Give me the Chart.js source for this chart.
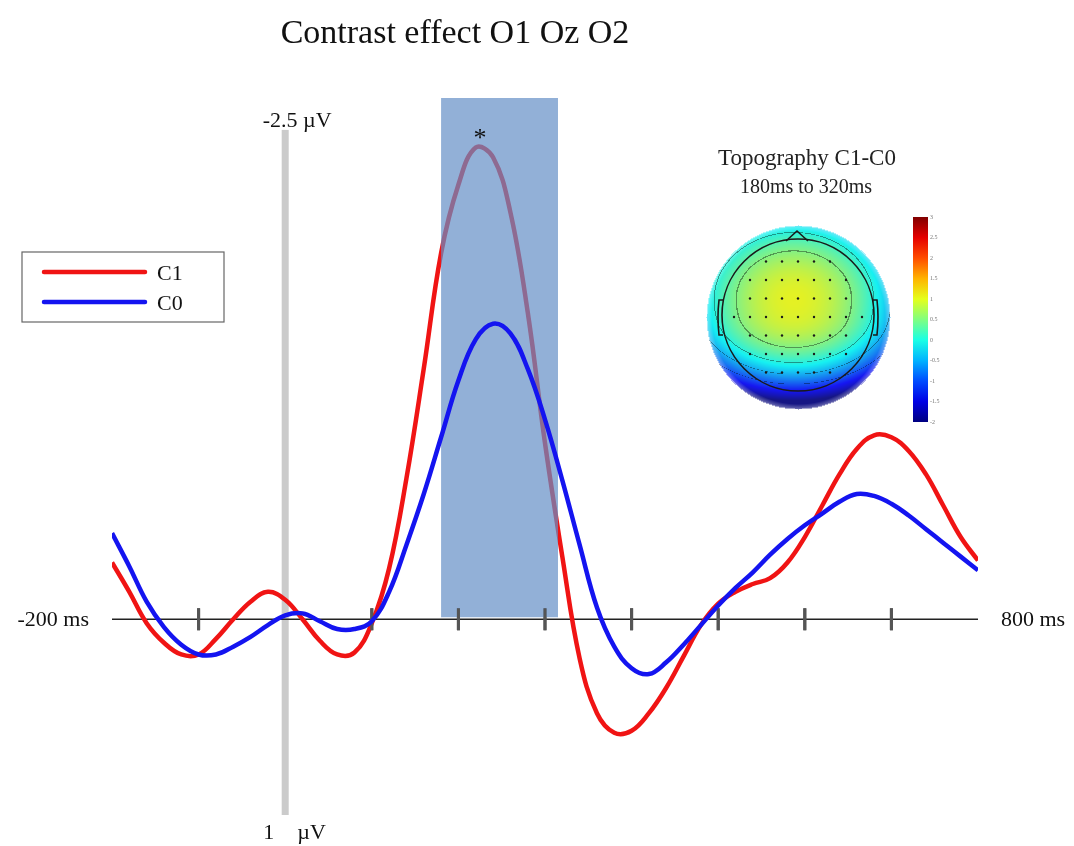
<!DOCTYPE html>
<html>
<head>
<meta charset="utf-8">
<title>Contrast effect O1 Oz O2</title>
<script src="https://cdn.jsdelivr.net/npm/chart.js@4.4.1/dist/chart.umd.min.js"></script>
<style>
  body { margin: 0; background: #fff; }
  #wrap { width: 1074px; height: 846px; }
</style>
</head>
<body>
<div id="wrap"><canvas id="erpChart" width="1074" height="846"></canvas></div>
<script>
// time points (ms)
var times = [-200, -180, -160, -140, -120, -100, -80, -60, -40, -20,
  0, 20, 40, 60, 80, 100, 120, 140, 160, 180,
  200, 220, 240, 260, 280, 300, 320, 340, 360, 380,
  400, 420, 440, 460, 480, 500, 520, 540, 560, 580,
  600, 620, 640, 660, 680, 700, 720, 740, 760, 780, 800];

// grand average amplitude (µV), negative up
var c1Values = [-0.29, -0.14, 0.02, 0.12, 0.18, 0.18, 0.10, 0.00, -0.09, -0.14,
  -0.10, 0.00, 0.11, 0.18, 0.17, 0.02, -0.26, -0.72, -1.28, -1.87,
  -2.22, -2.41, -2.36, -2.08, -1.57, -0.90, -0.32, 0.20, 0.48, 0.58,
  0.57, 0.48, 0.35, 0.19, 0.03, -0.08, -0.14, -0.18, -0.21, -0.29,
  -0.42, -0.58, -0.74, -0.87, -0.94, -0.93, -0.86, -0.74, -0.58, -0.42, -0.30];

var c0Values = [-0.44, -0.27, -0.09, 0.04, 0.13, 0.18, 0.18, 0.14, 0.09, 0.03,
  -0.02, -0.03, 0.01, 0.05, 0.05, 0.01, -0.14, -0.38, -0.64, -0.93,
  -1.22, -1.43, -1.51, -1.46, -1.28, -1.02, -0.71, -0.38, -0.06, 0.14,
  0.25, 0.28, 0.22, 0.13, 0.03, -0.07, -0.16, -0.24, -0.33, -0.41,
  -0.48, -0.54, -0.60, -0.64, -0.63, -0.59, -0.53, -0.46, -0.39, -0.32, -0.25];

var tickTimes = [-100, 100, 200, 300, 400, 500, 600, 700];
var windowStart = 180;
var windowEnd = 315;
var peakTime = 225;
var colorbarLabels = ['3', '2.5', '2', '1.5', '1', '0.5', '0', '-0.5', '-1', '-1.5', '-2'];
var isoLevels = [0.5, 0, -0.5, -1];

var serif = '"Liberation Serif", "DejaVu Serif", serif';

function toPoints(vals) {
  return vals.map(function (v, i) { return { x: times[i], y: v }; });
}

function drawTicks(ctx, x, y0) {
  ctx.save();
  ctx.strokeStyle = '#555';
  ctx.lineWidth = 3;
  tickTimes.forEach(function (t) {
    var px = x.getPixelForValue(t);
    ctx.beginPath();
    ctx.moveTo(px, y0 - 11);
    ctx.lineTo(px, y0 + 11);
    ctx.stroke();
  });
  ctx.restore();
}

// jet colormap, f in 0..1
function jet(f) {
  f = Math.max(0, Math.min(1, f));
  var r = Math.min(Math.max(Math.min(4 * f - 1.5, -4 * f + 4.5), 0), 1);
  var g = Math.min(Math.max(Math.min(4 * f - 0.5, -4 * f + 3.5), 0), 1);
  var b = Math.min(Math.max(Math.min(4 * f + 0.5, -4 * f + 2.5), 0), 1);
  return [Math.round(r * 255), Math.round(g * 255), Math.round(b * 255)];
}

function drawTopo(ctx) {
  var cx = 798, cy = 317, R = 92;
  var off = document.createElement('canvas');
  off.width = R * 2 + 4;
  off.height = R * 2 + 4;
  var octx = off.getContext('2d');
  var img = octx.createImageData(off.width, off.height);
  for (var py = 0; py < off.height; py++) {
    for (var px = 0; px < off.width; px++) {
      var nx = (px - R - 2) / R, ny = (py - R - 2) / R;
      var rr = Math.sqrt(nx * nx + ny * ny);
      if (rr > 1) continue;
      var up = Math.min(0, ny + 0.2), down = Math.max(0, ny + 0.2);
      var v = 1.05 - 1.4 * (nx + 0.05) * (nx + 0.05) - 2.0 * up * up - 1.3 * down * down - 1.8 * Math.max(0, ny) * Math.max(0, ny);
      var c = jet((v + 2) / 5);
      // muted like a printed map
      c = c.map(function (ch) { return ch * 0.86 + 22; });
      var iso = 1;
      isoLevels.forEach(function (lv) {
        if (Math.abs(v - lv) < 0.013) iso = 0.62;
      });
      var k = (py * off.width + px) * 4;
      var rim = Math.max(0, (rr - 0.94) / 0.06) * 0.4;
      img.data[k] = (c[0] + (255 - c[0]) * rim) * iso;
      img.data[k + 1] = (c[1] + (255 - c[1]) * rim) * iso;
      img.data[k + 2] = (c[2] + (255 - c[2]) * rim) * iso;
      img.data[k + 3] = rr > 0.99 ? 150 : 255;
    }
  }
  octx.putImageData(img, 0, 0);
  ctx.drawImage(off, cx - R - 2, cy - R - 2);

  // head outline, nose and ears
  ctx.save();
  ctx.strokeStyle = '#1a1a1a';
  ctx.lineWidth = 1.6;
  ctx.beginPath();
  ctx.arc(cx, cy - 2, 76, 0, Math.PI * 2);
  ctx.stroke();
  ctx.beginPath();
  ctx.moveTo(cx - 12, cy - 76);
  ctx.lineTo(cx - 1, cy - 86);
  ctx.lineTo(cx + 10, cy - 76);
  ctx.stroke();
  ctx.beginPath();
  ctx.moveTo(cx - 75, cy - 17);
  ctx.lineTo(cx - 79, cy - 17);
  ctx.quadraticCurveTo(cx - 81, cy, cx - 79, cy + 18);
  ctx.lineTo(cx - 75, cy + 18);
  ctx.stroke();
  ctx.beginPath();
  ctx.moveTo(cx + 75, cy - 17);
  ctx.lineTo(cx + 79, cy - 17);
  ctx.quadraticCurveTo(cx + 81, cy, cx + 79, cy + 18);
  ctx.lineTo(cx + 75, cy + 18);
  ctx.stroke();

  // electrode positions
  ctx.fillStyle = '#1a1a1a';
  for (var i = -4; i <= 4; i++) {
    for (var j = -4; j <= 4; j++) {
      var ex = cx + j * 16, ey = cy + i * 18.5;
      if (Math.hypot(ex - cx, ey - cy) < 66) {
        ctx.beginPath();
        ctx.arc(ex, ey, 1.2, 0, Math.PI * 2);
        ctx.fill();
      }
    }
  }
  ctx.restore();

  // colorbar
  var bx = 913, by = 217, bw = 15, bh = 205;
  var grad = ctx.createLinearGradient(0, by, 0, by + bh);
  for (var s = 0; s <= 10; s++) {
    var c = jet(1 - s / 10);
    grad.addColorStop(s / 10, 'rgb(' + c[0] + ',' + c[1] + ',' + c[2] + ')');
  }
  ctx.fillStyle = grad;
  ctx.fillRect(bx, by, bw, bh);
  ctx.fillStyle = '#777';
  ctx.font = '6px ' + serif;
  ctx.textAlign = 'left';
  ctx.textBaseline = 'middle';
  colorbarLabels.forEach(function (lab, k) {
    ctx.fillText(lab, bx + bw + 2, by + (bh * k) / (colorbarLabels.length - 1));
  });
}

var erpFigure = {
  id: 'erpFigure',
  beforeDatasetsDraw: function (chart) {
    var ctx = chart.ctx, x = chart.scales.x, y = chart.scales.y;
    var y0 = y.getPixelForValue(0);
    ctx.save();
    // stimulus onset bar, -2.5 to 1 µV
    ctx.fillStyle = '#cbcbcb';
    var x0 = x.getPixelForValue(0);
    ctx.fillRect(x0 - 3.5, y.getPixelForValue(-2.5), 7, y.getPixelForValue(1) - y.getPixelForValue(-2.5));
    // time axis
    ctx.strokeStyle = '#222';
    ctx.lineWidth = 1.6;
    ctx.beginPath();
    ctx.moveTo(x.getPixelForValue(-200), y0);
    ctx.lineTo(x.getPixelForValue(800), y0);
    ctx.stroke();
    ctx.restore();
    drawTicks(ctx, x, y0);
  },
  beforeDatasetDraw: function (chart, args) {
    if (args.index !== 1) return;
    var ctx = chart.ctx, x = chart.scales.x, y = chart.scales.y;
    var y0 = y.getPixelForValue(0);
    var left = x.getPixelForValue(windowStart), right = x.getPixelForValue(windowEnd);
    ctx.save();
    ctx.fillStyle = 'rgba(100, 143, 198, 0.7)';
    ctx.fillRect(left, chart.chartArea.top, right - left, y0 - 2 - chart.chartArea.top);
    ctx.restore();
    drawTicks(ctx, x, y0);
  },
  afterDraw: function (chart) {
    var ctx = chart.ctx, x = chart.scales.x, y = chart.scales.y;
    var y0 = y.getPixelForValue(0);
    var x0 = x.getPixelForValue(0);
    ctx.save();
    ctx.fillStyle = '#111';
    ctx.textBaseline = 'alphabetic';

    ctx.font = '34px ' + serif;
    ctx.textAlign = 'center';
    ctx.fillText('Contrast effect O1 Oz O2', 455, 43);

    ctx.font = '22px ' + serif;
    ctx.textAlign = 'center';
    ctx.fillText('-2.5 \u00b5V', x0 + 12, 127);
    ctx.textAlign = 'left';
    ctx.fillText('1', x0 - 22, 839);
    ctx.fillText('\u00b5V', x0 + 12, 839);
    ctx.textAlign = 'right';
    ctx.fillText('-200 ms', x.getPixelForValue(-200) - 23, y0 + 7);
    ctx.textAlign = 'left';
    ctx.fillText('800 ms', x.getPixelForValue(800) + 23, y0 + 7);

    // significance marker
    ctx.font = '26px ' + serif;
    ctx.textAlign = 'center';
    ctx.fillText('*', x.getPixelForValue(peakTime), 146);

    // legend
    ctx.strokeStyle = '#666';
    ctx.lineWidth = 1.2;
    ctx.strokeRect(22, 252, 202, 70);
    ctx.lineWidth = 4.5;
    ctx.lineCap = 'round';
    ctx.strokeStyle = '#f01414';
    ctx.beginPath(); ctx.moveTo(44, 272); ctx.lineTo(145, 272); ctx.stroke();
    ctx.strokeStyle = '#1414f0';
    ctx.beginPath(); ctx.moveTo(44, 302); ctx.lineTo(145, 302); ctx.stroke();
    ctx.font = '22px ' + serif;
    ctx.textAlign = 'left';
    ctx.fillText('C1', 157, 280);
    ctx.fillText('C0', 157, 310);

    // topography inset
    ctx.fillStyle = '#222';
    ctx.textAlign = 'center';
    ctx.font = '23px ' + serif;
    ctx.fillText('Topography C1-C0', 807, 165);
    ctx.font = '20px ' + serif;
    ctx.fillText('180ms to 320ms', 806, 193);
    ctx.restore();
    drawTopo(ctx);
  }
};

var ctx = document.getElementById('erpChart').getContext('2d');

var erpChart = new Chart(ctx, {
  type: 'line',
  data: {
    datasets: [{
      label: 'C1',
      data: toPoints(c1Values),
      borderColor: '#f01414',
      borderWidth: 4.5,
      pointRadius: 0,
      tension: 0.4,
      fill: false,
      order: 1
    }, {
      label: 'C0',
      data: toPoints(c0Values),
      borderColor: '#1414f0',
      borderWidth: 4.5,
      pointRadius: 0,
      tension: 0.4,
      fill: false,
      order: 0
    }]
  },
  options: {
    responsive: false,
    animation: false,
    layout: { padding: { left: 112, right: 96, top: 98, bottom: 31 } },
    scales: {
      x: { type: 'linear', min: -200, max: 800, display: false },
      y: { type: 'linear', reverse: true, min: -2.663, max: 1, display: false }
    },
    plugins: {
      legend: { display: false },
      tooltip: { enabled: false }
    }
  },
  plugins: [erpFigure]
});
</script>
</body>
</html>
